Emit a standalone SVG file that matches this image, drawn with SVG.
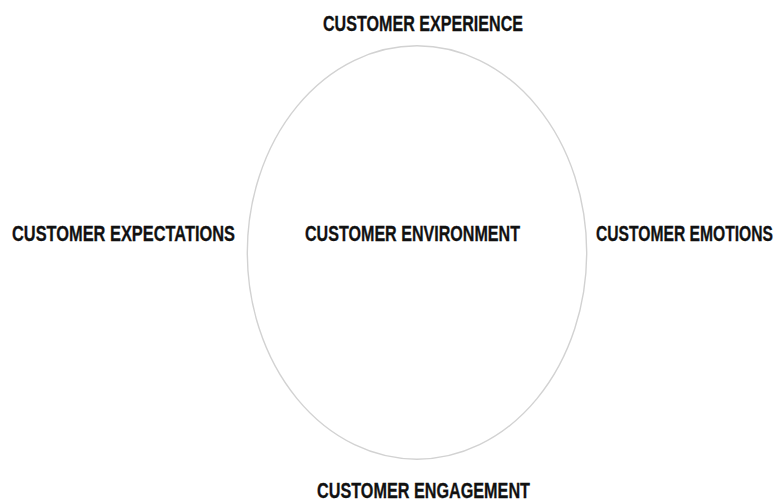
<svg xmlns="http://www.w3.org/2000/svg" width="780" height="504" viewBox="0 0 780 504">
  <style>
    .lbl { font-family: "Liberation Sans", Arial, sans-serif; font-weight: bold; font-size: 21.5px; fill: #111111; stroke: #111111; stroke-width: 0.3; }
    .ring { fill: none; stroke: #d2d2d2; stroke-width: 1.4; }
  </style>
  <rect width="780" height="504" fill="#ffffff"/>
  <!-- labels are set in a narrowed bold sans: horizontal scale 0.75 -->
  <g id="environment">
    <ellipse class="ring" cx="417" cy="252.5" rx="169.7" ry="206.7"/>
    <text class="lbl" transform="translate(305,241) scale(0.75,1)" textLength="286.7" lengthAdjust="spacingAndGlyphs">CUSTOMER ENVIRONMENT</text>
  </g>
  <g id="experience">
    <text class="lbl" transform="translate(323,30.5) scale(0.75,1)" textLength="266.7" lengthAdjust="spacingAndGlyphs">CUSTOMER EXPERIENCE</text>
  </g>
  <g id="expectations">
    <text class="lbl" transform="translate(12,241) scale(0.75,1)" textLength="297.3" lengthAdjust="spacingAndGlyphs">CUSTOMER EXPECTATIONS</text>
  </g>
  <g id="emotions">
    <text class="lbl" transform="translate(596,241) scale(0.75,1)" textLength="236" lengthAdjust="spacingAndGlyphs">CUSTOMER EMOTIONS</text>
  </g>
  <g id="engagement">
    <text class="lbl" transform="translate(317,498) scale(0.75,1)" textLength="284" lengthAdjust="spacingAndGlyphs">CUSTOMER ENGAGEMENT</text>
  </g>
  <g id="connectors"/>
</svg>
